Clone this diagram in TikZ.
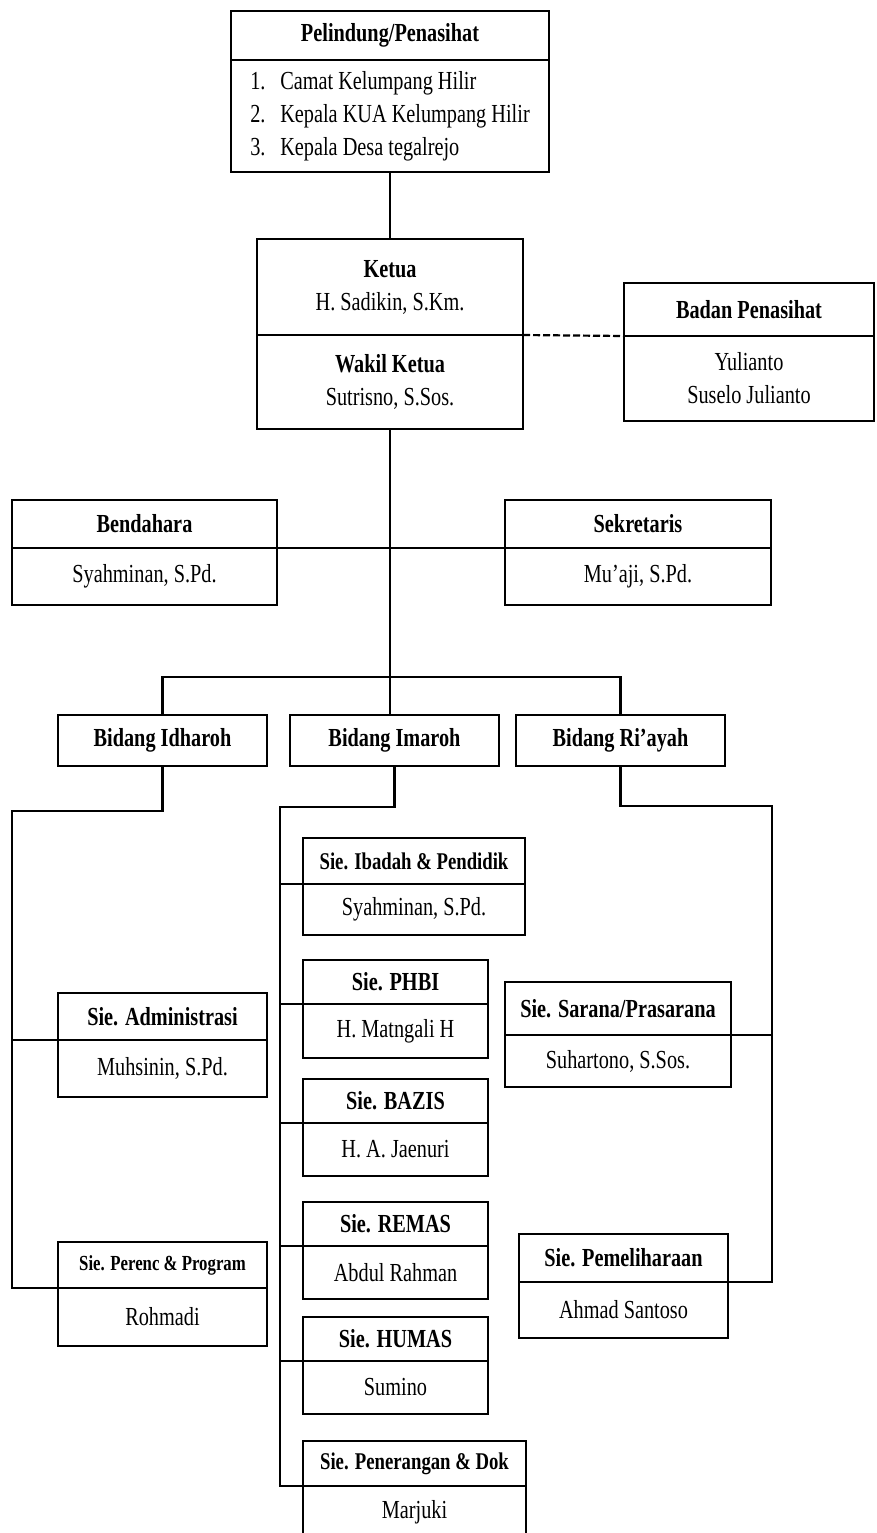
\documentclass[tikz,border=0pt]{standalone}
\usepackage{fontspec}
\setmainfont{Liberation Serif}[FakeStretch=0.78]
\usepackage{tikz}
\usetikzlibrary{positioning}
\tikzstyle{kepala} = [draw, rectangle, line width=2.2pt, outer sep=0pt, font=\fontsize{26}{33}\selectfont\bfseries, inner sep=2pt]
\tikzstyle{isi} = [draw, rectangle, line width=2.2pt, outer sep=0pt, font=\fontsize{26}{33}\selectfont, align=center, inner sep=2pt]
\tikzstyle{garis} = [line width=2.2pt]

\begin{document}
\begin{tikzpicture}[x=1pt, y=-1pt]
	\useasboundingbox (0,0) rectangle (877,1533);
	% pelindung, ketua, badan penasihat
	\node[kepala, anchor=north west, minimum width=318pt, minimum height=49pt] (pelindung) at (231,11) {Pelindung/Penasihat};
	\node[isi, below=0pt of pelindung, align=left, minimum width=318pt, minimum height=112pt] (pelindung-isi) {%
		\makebox[30pt][l]{1.}Camat Kelumpang Hilir\\
		\makebox[30pt][l]{2.}Kepala KUA Kelumpang Hilir\\
		\makebox[30pt][l]{3.}Kepala Desa tegalrejo};
	\node[isi, anchor=north west, minimum width=266pt, minimum height=96pt] (ketua) at (257,239) {\textbf{Ketua}\\H. Sadikin, S.Km.};
	\node[isi, below=0pt of ketua, minimum width=266pt, minimum height=94pt] (wakil) {\textbf{Wakil Ketua}\\Sutrisno, S.Sos.};
	\node[kepala, anchor=north west, minimum width=250pt, minimum height=53pt] (badan) at (624,283) {Badan Penasihat};
	\node[isi, below=0pt of badan, minimum width=250pt, minimum height=85pt] (badan-isi) {Yulianto\\Suselo Julianto};
	% bendahara, sekretaris
	\node[kepala, anchor=north west, minimum width=265pt, minimum height=48pt] (bendahara) at (12,500) {Bendahara};
	\node[isi, below=0pt of bendahara, minimum width=265pt, minimum height=57pt] (bendahara-isi) {Syahminan, S.Pd.};
	\node[kepala, anchor=north west, minimum width=266pt, minimum height=48pt] (sekretaris) at (505,500) {Sekretaris};
	\node[isi, below=0pt of sekretaris, minimum width=266pt, minimum height=57pt] (sekretaris-isi) {Mu'aji, S.Pd.};
	% bidang
	\node[kepala, anchor=north west, minimum width=209pt, minimum height=51pt] (idharoh) at (58,715) {Bidang Idharoh};
	\node[kepala, anchor=north west, minimum width=209pt, minimum height=51pt] (imaroh) at (290,715) {Bidang Imaroh};
	\node[kepala, anchor=north west, minimum width=209pt, minimum height=51pt] (riayah) at (516,715) {Bidang Ri'ayah};
	% seksi bidang idharoh
	\node[kepala, anchor=north west, minimum width=209pt, minimum height=47pt] (administrasi) at (58,993) {Sie. Administrasi};
	\node[isi, below=0pt of administrasi, minimum width=209pt, minimum height=57pt] (administrasi-isi) {Muhsinin, S.Pd.};
	\node[kepala, anchor=north west, minimum width=209pt, minimum height=46pt, font=\fontsize{21.5}{26}\selectfont\bfseries] (perenc) at (58,1242) {Sie. Perenc \& Program};
	\node[isi, below=0pt of perenc, minimum width=209pt, minimum height=58pt] (perenc-isi) {Rohmadi};
	% seksi bidang imaroh
	\node[kepala, anchor=north west, minimum width=222pt, minimum height=46pt, font=\fontsize{24}{30}\selectfont\bfseries] (ibadah) at (303,838) {Sie. Ibadah \& Pendidik};
	\node[isi, below=0pt of ibadah, minimum width=222pt, minimum height=51pt] (ibadah-isi) {Syahminan, S.Pd.};
	\node[kepala, anchor=north west, minimum width=185pt, minimum height=44pt] (phbi) at (303,960) {Sie. PHBI};
	\node[isi, below=0pt of phbi, minimum width=185pt, minimum height=54pt] (phbi-isi) {H. Matngali H};
	\node[kepala, anchor=north west, minimum width=185pt, minimum height=44pt] (bazis) at (303,1079) {Sie. BAZIS};
	\node[isi, below=0pt of bazis, minimum width=185pt, minimum height=53pt] (bazis-isi) {H. A. Jaenuri};
	\node[kepala, anchor=north west, minimum width=185pt, minimum height=44pt] (remas) at (303,1202) {Sie. REMAS};
	\node[isi, below=0pt of remas, minimum width=185pt, minimum height=53pt] (remas-isi) {Abdul Rahman};
	\node[kepala, anchor=north west, minimum width=185pt, minimum height=44pt] (humas) at (303,1317) {Sie. HUMAS};
	\node[isi, below=0pt of humas, minimum width=185pt, minimum height=53pt] (humas-isi) {Sumino};
	\node[kepala, anchor=north west, minimum width=223pt, minimum height=45pt, font=\fontsize{24}{30}\selectfont\bfseries] (penerangan) at (303,1441) {Sie. Penerangan \& Dok};
	\node[isi, below=0pt of penerangan, minimum width=223pt, minimum height=52pt] (penerangan-isi) {Marjuki};
	% seksi bidang ri'ayah
	\node[kepala, anchor=north west, minimum width=226pt, minimum height=53pt] (sarana) at (505,982) {Sie. Sarana/Prasarana};
	\node[isi, below=0pt of sarana, minimum width=226pt, minimum height=52pt] (sarana-isi) {Suhartono, S.Sos.};
	\node[kepala, anchor=north west, minimum width=209pt, minimum height=48pt] (pemeliharaan) at (519,1234) {Sie. Pemeliharaan};
	\node[isi, below=0pt of pemeliharaan, minimum width=209pt, minimum height=56pt] (pemeliharaan-isi) {Ahmad Santoso};
	% titik cabang
	\coordinate (cabang) at (390,677);
	\coordinate (kiri) at (12,811);
	\coordinate (tengah) at (280,807);
	\coordinate (kanan) at (772,806);
	% garis
	\draw[garis] (pelindung-isi.south) -- (ketua.north);
	\draw[garis, dash pattern=on 7pt off 3pt] (ketua.south east) -- (badan.south west);
	\draw[garis] (wakil.south) -- (cabang);
	\draw[garis] (bendahara.south east) -- (sekretaris.south west);
	\draw[garis] (idharoh.north) |- (cabang) -| (riayah.north);
	\draw[garis] (cabang) -- (cabang |- imaroh.north);
	\draw[garis] (idharoh.south) |- (kiri) |- (perenc.south west);
	\draw[garis] (kiri |- administrasi.south west) -- (administrasi.south west);
	\draw[garis] (imaroh.south) |- (tengah) |- (penerangan.south west);
	\draw[garis] (tengah |- ibadah.south west) -- (ibadah.south west);
	\draw[garis] (tengah |- phbi.south west) -- (phbi.south west);
	\draw[garis] (tengah |- bazis.south west) -- (bazis.south west);
	\draw[garis] (tengah |- remas.south west) -- (remas.south west);
	\draw[garis] (tengah |- humas.south west) -- (humas.south west);
	\draw[garis] (riayah.south) |- (kanan) |- (pemeliharaan.south east);
	\draw[garis] (kanan |- sarana.south east) -- (sarana.south east);
\end{tikzpicture}
\end{document}
